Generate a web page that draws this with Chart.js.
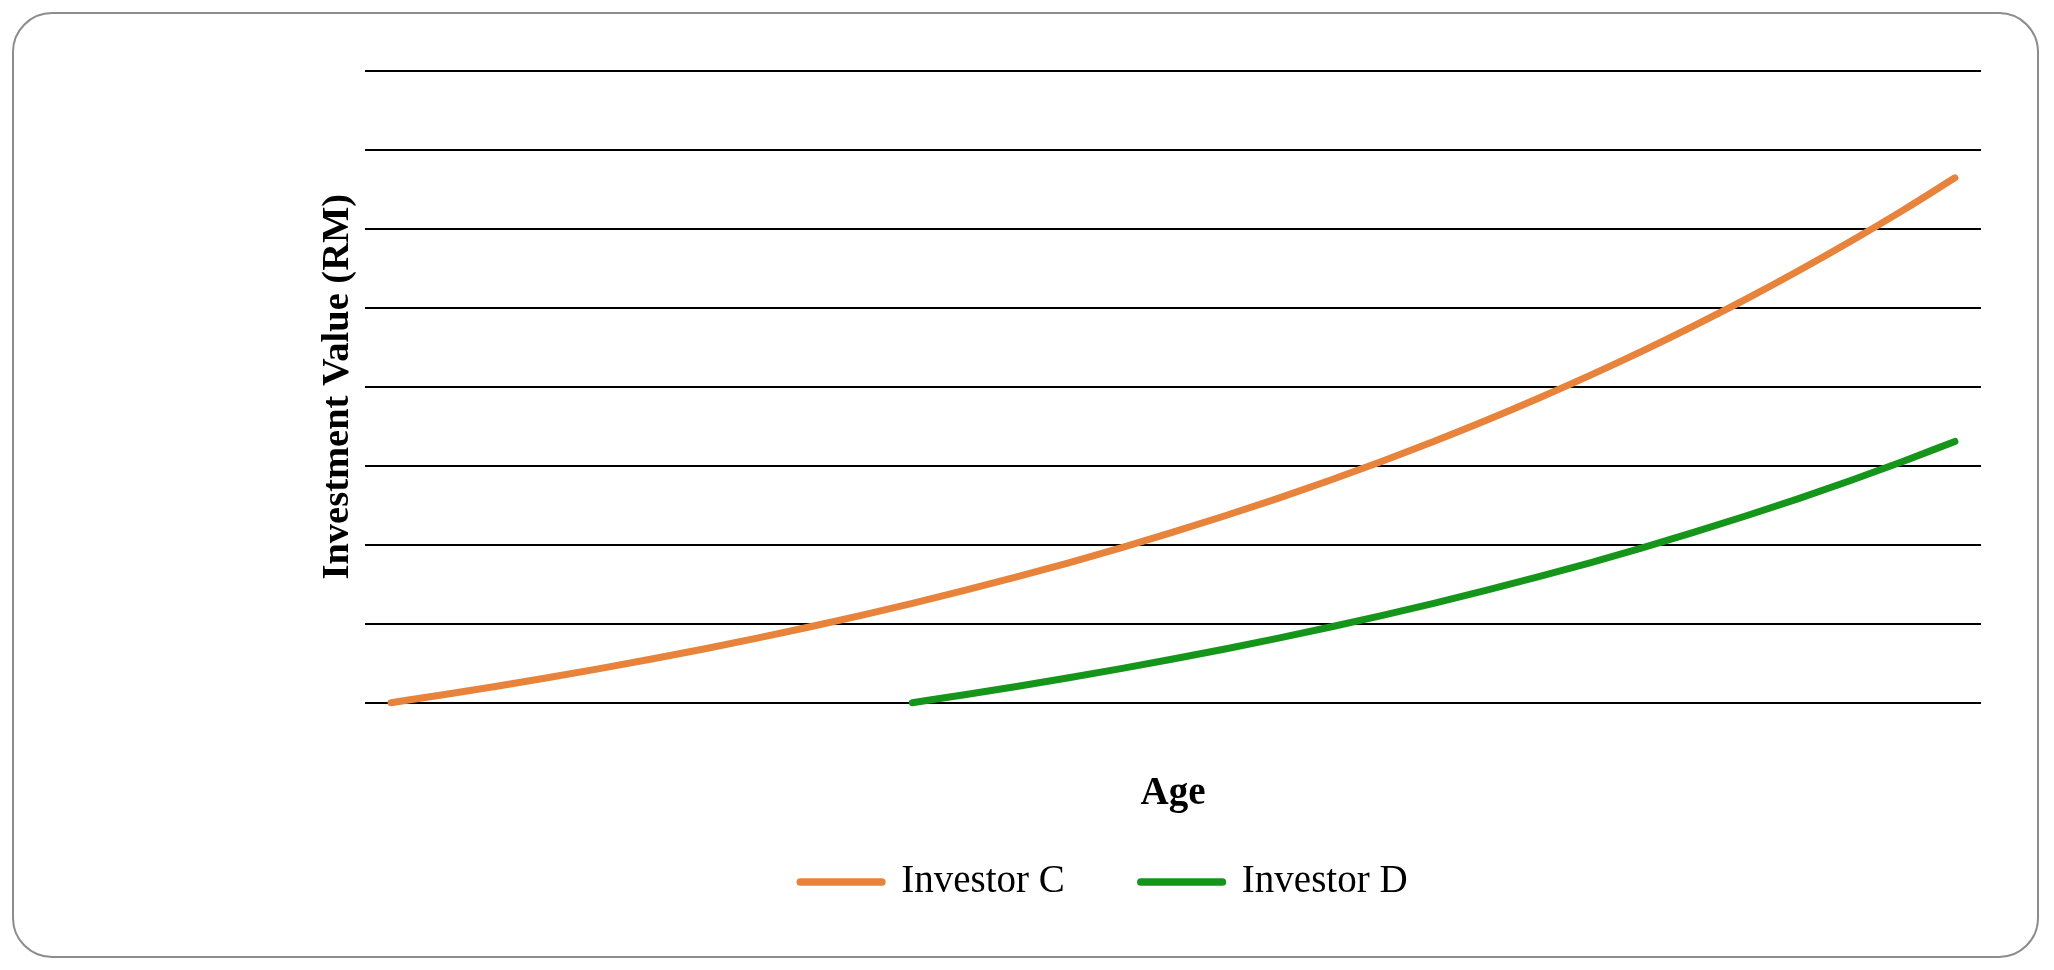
<!DOCTYPE html>
<html>
<head>
<meta charset="utf-8">
<script src="https://cdn.jsdelivr.net/npm/chart.js@4.4.1/dist/chart.umd.min.js"></script>
<style>
  html, body { margin: 0; padding: 0; background: #fff; }
  #frame {
    position: absolute; left: 12px; top: 12px;
    width: 2027px; height: 946px;
    box-sizing: border-box;
    border: 2px solid #8c8c8c; border-radius: 40px;
  }
  #chart { position: absolute; left: 0; top: 0; }
</style>
</head>
<body>
<div id="frame"></div>
<canvas id="chart" width="2054" height="970"></canvas>
<script>
  // ages 25 .. 55
  const ages = [25, 26, 27, 28, 29, 30, 31, 32, 33, 34, 35, 36, 37, 38, 39, 40,
                41, 42, 43, 44, 45, 46, 47, 48, 49, 50, 51, 52, 53, 54, 55];

  // Investor C starts at 25
  const investorC = [0, 10000, 20500, 31500, 43100, 55300, 68000, 81400, 95500, 110300,
                     125800, 142100, 159200, 177100, 196000, 215800, 236600, 258400, 281300, 305400,
                     330700, 357200, 385100, 414300, 445000, 477300, 511100, 546700, 584000, 623200,
                     664400];

  // Investor D starts at 35
  const investorD = [null, null, null, null, null, null, null, null, null, null,
                     0, 10000, 20500, 31500, 43100, 55300, 68000, 81400, 95500, 110300,
                     125800, 142100, 159200, 177100, 196000, 215800, 236600, 258400, 281300, 305400,
                     330700];

  const yMax = 800000;
  const yStep = 100000;

  const serif = 'Liberation Serif';

  // move the legend so it sits where the original one does
  const legendNudge = {
    id: 'legendNudge',
    afterLayout(chart, args, opts) {
      const lg = chart.legend;
      if (!lg) return;
      lg.left += opts.dx; lg.right += opts.dx;
    }
  };

  new Chart(document.getElementById('chart'), {
    type: 'line',
    data: {
      labels: ages,
      datasets: [
        {
          label: 'Investor C',
          data: investorC,
          borderColor: '#E8833C',
          backgroundColor: '#E8833C',
          borderWidth: 7,
          borderCapStyle: 'round',
          borderJoinStyle: 'round',
          pointRadius: 0,
          cubicInterpolationMode: 'monotone',
          clip: false
        },
        {
          label: 'Investor D',
          data: investorD,
          borderColor: '#15961A',
          backgroundColor: '#15961A',
          borderWidth: 7,
          borderCapStyle: 'round',
          borderJoinStyle: 'round',
          pointRadius: 0,
          cubicInterpolationMode: 'monotone',
          clip: false
        }
      ]
    },
    plugins: [legendNudge],
    options: {
      responsive: false,
      animation: false,
      devicePixelRatio: 1,
      layout: {
        padding: { left: 314.9, right: 73, top: 70.7, bottom: 58.5 }
      },
      scales: {
        x: {
          type: 'category',
          offset: true,
          grid: { display: false, drawTicks: false },
          border: { display: false },
          ticks: { display: false },
          title: {
            display: true,
            text: 'Age',
            color: '#000',
            font: { family: serif, size: 39, weight: 'bold' },
            padding: { top: 68, bottom: -31 }
          }
        },
        y: {
          min: 0,
          max: yMax,
          ticks: { display: false, stepSize: yStep },
          grid: { color: '#000', lineWidth: 2, drawTicks: false },
          border: { display: false },
          title: {
            display: true,
            text: 'Investment Value (RM)',
            color: '#000',
            font: { family: serif, size: 38.5, weight: 'bold' },
            padding: { top: 0, bottom: 3.9 }
          }
        }
      },
      plugins: {
        legend: {
          position: 'bottom',
          labels: {
            usePointStyle: true,
            pointStyle: 'line',
            pointStyleWidth: 81.5,
            padding: 76,
            color: '#000',
            font: { family: serif, size: 39 },
            generateLabels(chart) {
              const items = Chart.defaults.plugins.legend.labels.generateLabels(chart);
              items.forEach(it => { it.lineWidth = 7.7; it.lineCap = 'round'; });
              return items;
            }
          }
        },
        legendNudge: { dx: -44 },
        tooltip: { enabled: false }
      }
    }
  });
</script>
</body>
</html>
